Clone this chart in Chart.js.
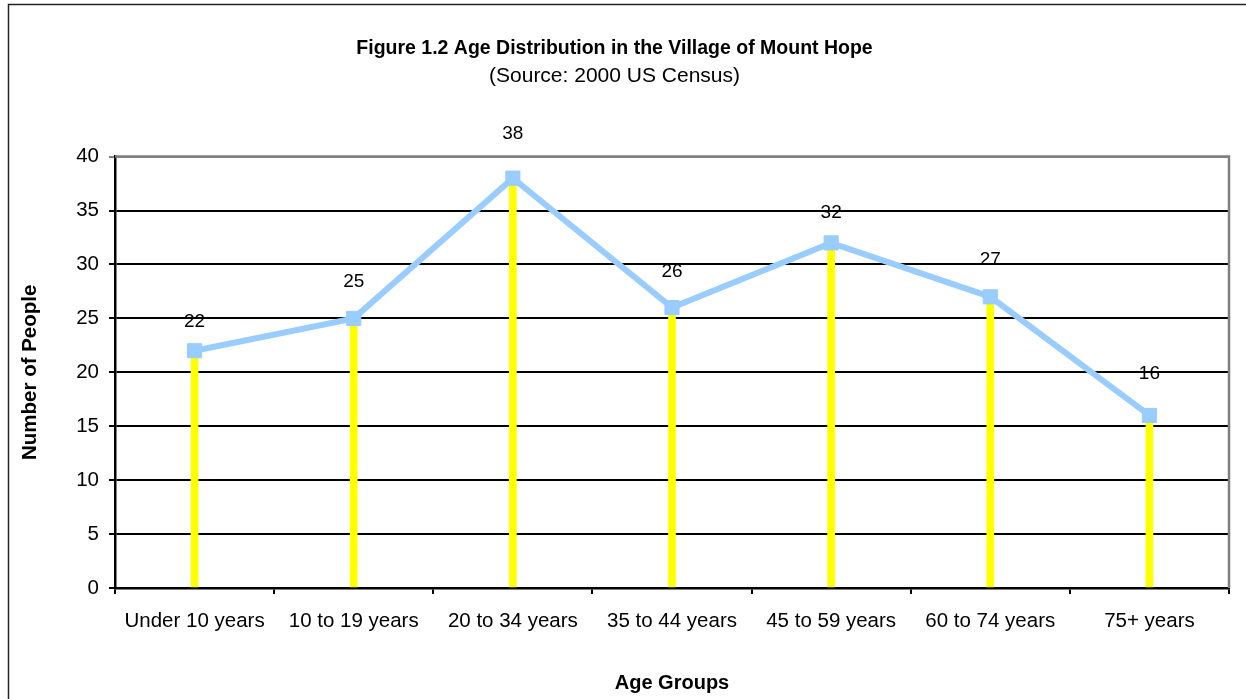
<!DOCTYPE html>
<html>
<head>
<meta charset="utf-8">
<script src="https://cdn.jsdelivr.net/npm/chart.js@4"></script>
<style>
  body { margin: 0; background: #fff; }
  #myChart { display: block; }
</style>
</head>
<body>
<canvas id="myChart" width="1246" height="699"></canvas>
<script>
// data
var ageGroups = ['Under 10 years', '10 to 19 years', '20 to 34 years', '35 to 44 years', '45 to 59 years', '60 to 74 years', '75+ years'];
var people = [22, 25, 38, 26, 32, 27, 16];
var yTicks = [0, 5, 10, 15, 20, 25, 30, 35, 40];

var FONT = "'Liberation Sans', Arial, sans-serif";

// outer frame, gray top/right plot border
var framePlugin = {
    id: 'frame',
    beforeDraw: function(chart) {
        var ctx = chart.ctx;
        ctx.save();
        ctx.fillStyle = '#fff';
        ctx.fillRect(0, 0, chart.width, chart.height);
        ctx.strokeStyle = '#222';
        ctx.lineWidth = 1.5;
        ctx.strokeRect(8.5, 4.5, 1400, 900);
        ctx.restore();
    },
    afterDraw: function(chart) {
        var a = chart.chartArea;
        var ctx = chart.ctx;
        ctx.save();
        ctx.strokeStyle = '#808080';
        ctx.lineWidth = 2.5;
        ctx.beginPath();
        ctx.moveTo(a.left, a.top);
        ctx.lineTo(a.right, a.top);
        ctx.lineTo(a.right, a.bottom);
        ctx.stroke();
        ctx.restore();
    }
};

// value labels above the points
var valueLabels = {
    id: 'valueLabels',
    afterDatasetsDraw: function(chart, args, opts) {
        var ctx = chart.ctx;
        var meta = chart.getDatasetMeta(1);
        ctx.save();
        ctx.font = opts.size + 'px ' + FONT;
        ctx.fillStyle = '#000';
        ctx.textAlign = 'center';
        ctx.textBaseline = 'middle';
        meta.data.forEach(function(pt, i) {
            ctx.fillText(String(people[i]), pt.x, pt.y - opts.offsets[i]);
        });
        ctx.restore();
    }
};

var ctx = document.getElementById('myChart').getContext('2d');
var chart = new Chart(ctx, {
    type: 'bar',
    data: {
        labels: ageGroups,
        datasets: [{
            type: 'bar',
            data: people,
            backgroundColor: '#ffff00',
            barThickness: 7,
            order: 2
        }, {
            type: 'line',
            data: people,
            borderColor: '#99ccff',
            borderWidth: 6,
            pointStyle: 'rect',
            pointRadius: 10,
            pointHoverRadius: 10,
            pointBackgroundColor: '#99ccff',
            pointBorderColor: '#99ccff',
            pointBorderWidth: 1,
            tension: 0,
            order: 1
        }]
    },
    plugins: [framePlugin, valueLabels],
    options: {
        responsive: false,
        animation: false,
        layout: { padding: { left: 0, right: 17, top: 0, bottom: 0 } },
        plugins: {
            legend: { display: false },
            tooltip: { enabled: false },
            title: {
                display: true,
                text: 'Figure 1.2 Age Distribution in the Village of Mount Hope',
                color: '#000',
                font: { family: FONT, size: 19.5, weight: 'bold' },
                padding: { top: 37, bottom: 3 }
            },
            subtitle: {
                display: true,
                text: '(Source: 2000 US Census)',
                color: '#000',
                font: { family: FONT, size: 21 },
                padding: { top: 0, bottom: 68 }
            },
            valueLabels: {
                size: 19,
                offsets: [29, 37, 44, 36, 30, 37, 42]
            }
        },
        scales: {
            x: {
                offset: true,
                afterFit: function(s) { s.height = 111; },
                grid: {
                    offset: true,
                    drawOnChartArea: false,
                    color: '#000',
                    lineWidth: 2,
                    tickLength: 6
                },
                border: { color: '#000', width: 2.5 },
                ticks: {
                    color: '#000',
                    font: { family: FONT, size: 20.5 },
                    padding: 15,
                    maxRotation: 0,
                    autoSkip: false
                },
                title: {
                    display: true,
                    text: 'Age Groups',
                    color: '#000',
                    font: { family: FONT, size: 20, weight: 'bold' },
                    padding: { top: 0, bottom: 4 }
                }
            },
            y: {
                min: 0,
                max: 40,
                afterFit: function(s) { s.width = 115; },
                afterBuildTicks: function(s) {
                    s.ticks = yTicks.map(function(v) { return { value: v }; });
                },
                grid: {
                    color: function(c) { return c.tick && c.tick.value === 40 ? '#808080' : '#000'; },
                    lineWidth: 2,
                    tickLength: 6
                },
                border: { color: '#000', width: 2.5 },
                ticks: {
                    color: '#000',
                    font: { family: FONT, size: 20.5 },
                    padding: 10
                },
                title: {
                    display: true,
                    text: 'Number of People',
                    color: '#000',
                    font: { family: FONT, size: 20.5, weight: 'bold' },
                    padding: { top: 18, bottom: 0 }
                }
            }
        }
    }
});
</script>
</body>
</html>
